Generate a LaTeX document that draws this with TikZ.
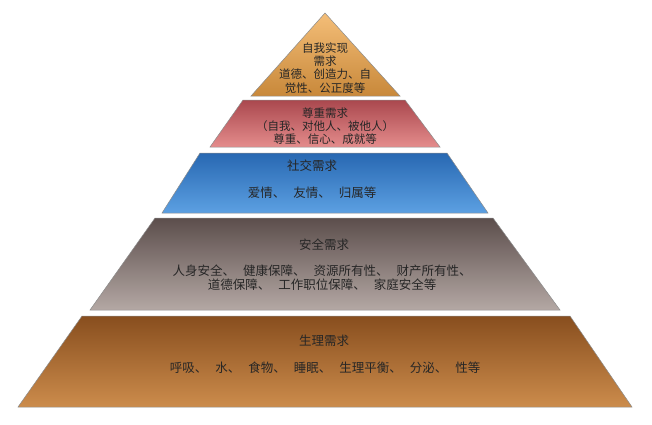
\documentclass[tikz,border=0pt]{standalone}
\usepackage{fontspec}
\newfontfamily\cjk{Noto Sans CJK SC}
\newcommand{\dunh}{、\hspace{8pt}}
\begin{document}
\begin{tikzpicture}[x=1pt,y=-1pt,
  lay/.style={draw=black!45,line width=0.5pt},
  txt/.style={font=\cjk\fontsize{11.5}{13.2}\selectfont,text=black!85,align=center,inner sep=0pt},
  txtb/.style={font=\cjk\fontsize{12.5}{14}\selectfont,text=black!85,align=center,inner sep=0pt}]
\useasboundingbox (0,0) rectangle (652,424);
\shade[lay,top color={rgb,255:red,244;green,190;blue,120},bottom color={rgb,255:red,200;green,136;blue,58}]
  (325,13) -- (400,96) -- (251,96) -- cycle;
\shade[lay,top color={rgb,255:red,170;green,72;blue,78},bottom color={rgb,255:red,228;green,140;blue,140}]
  (243,100) -- (405,100) -- (440,147) -- (210,147) -- cycle;
\shade[lay,top color={rgb,255:red,40;green,104;blue,178},bottom color={rgb,255:red,92;green,160;blue,226}]
  (200,153) -- (447,153) -- (488,213) -- (162,213) -- cycle;
\shade[lay,top color={rgb,255:red,92;green,78;blue,76},bottom color={rgb,255:red,180;green,168;blue,164}]
  (155,218) -- (493,218) -- (560,310) -- (90,310) -- cycle;
\shade[lay,top color={rgb,255:red,136;green,78;blue,30},bottom color={rgb,255:red,204;green,140;blue,76}]
  (82,316) -- (570,316) -- (632,407) -- (18,407) -- cycle;
\node[txt] (t1) at (325,68) {自我实现\\需求\\道德、创造力、自\\觉性、公正度等};
\node[txt] (t2) at (325,126) {尊重需求\\（自我、对他人、被他人）\\尊重、信心、成就等};
\node[txtb] (t3a) at (312,166) {社交需求};
\node[txtb] (t3b) at (312,193) {爱情\dunh 友情\dunh 归属等};
\node[txtb] (t4a) at (324,245) {安全需求};
\node[txtb] (t4b) at (322,278) {人身安全\dunh 健康保障\dunh 资源所有性\dunh 财产所有性、\\道德保障\dunh 工作职位保障\dunh 家庭安全等};
\node[txtb] (t5a) at (324,341) {生理需求};
\node[txtb] (t5b) at (325,368) {呼吸\dunh 水\dunh 食物\dunh 睡眠\dunh 生理平衡\dunh 分泌\dunh 性等};
\end{tikzpicture}
\end{document}
